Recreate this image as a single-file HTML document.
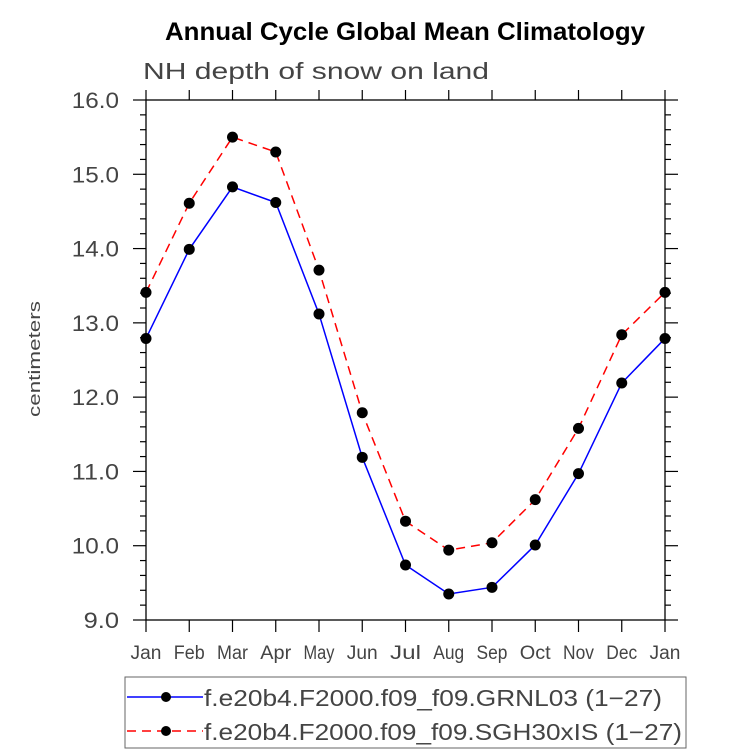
<!DOCTYPE html>
<html><head><meta charset="utf-8"><style>
body{margin:0;background:#fff;}
svg{display:block;font-family:"Liberation Sans",sans-serif;}
</style></head><body>
<svg id="chart" width="733" height="754">
<text x="165" y="40" font-size="25" font-weight="bold" textLength="480" lengthAdjust="spacingAndGlyphs">Annual Cycle Global Mean Climatology</text>
<text x="143" y="79" font-size="23" fill="#444" textLength="346" lengthAdjust="spacingAndGlyphs">NH depth of snow on land</text>
<text x="40" y="359" font-size="17" fill="#444" text-anchor="middle" textLength="116" lengthAdjust="spacingAndGlyphs" transform="rotate(-90 40 359)">centimeters</text>
<rect x="146" y="100" width="519" height="520" fill="none" stroke="#000" stroke-width="1.3"/>
<g id="ticks"></g><g id="series"></g>
<rect x="125" y="677" width="561" height="71" fill="none" stroke="#666" stroke-width="1"/>
<g>
<line x1="127" y1="697" x2="203" y2="697" stroke="#00f" stroke-width="1.5"/>
<circle cx="166" cy="697" r="5" fill="#000"/>
<text x="204" y="706" font-size="23" fill="#444" textLength="458" lengthAdjust="spacingAndGlyphs">f.e20b4.F2000.f09_f09.GRNL03 (1−27)</text>
</g>
<g>
<line x1="127" y1="731" x2="203" y2="731" stroke="#f00" stroke-width="1.5" stroke-dasharray="9,6"/>
<circle cx="166" cy="731" r="5" fill="#000"/>
<text x="204" y="740" font-size="23" fill="#444" textLength="478" lengthAdjust="spacingAndGlyphs">f.e20b4.F2000.f09_f09.SGH30xIS (1−27)</text>
</g>
</svg>
<script>
const months=["Jan","Feb","Mar","Apr","May","Jun","Jul","Aug","Sep","Oct","Nov","Dec","Jan"];
const blueValues=[12.79,13.99,14.83,14.62,13.12,11.19,9.74,9.35,9.44,10.01,10.97,12.19,12.79];
const redValues=[13.41,14.61,15.50,15.30,13.71,11.79,10.33,9.94,10.04,10.62,11.58,12.84,13.41];
const yTickLabels=["9.0","10.0","11.0","12.0","13.0","14.0","15.0","16.0"];
const yMin=9,yMax=16;
const NS="http://www.w3.org/2000/svg";
const X0=146,X1=665,Y0=620,Y1=100;
function xs(i){return X0+(X1-X0)*i/(months.length-1);}
function ys(v){return Y0-(v-yMin)/(yMax-yMin)*(Y0-Y1);}
function mk(tag,attrs,parent){const e=document.createElementNS(NS,tag);for(const k in attrs)e.setAttribute(k,attrs[k]);parent.appendChild(e);return e;}
const tg=document.getElementById('ticks');
months.forEach((m,i)=>{
  const x=xs(i);
  const t1=mk('line',{x1:x,y1:Y0,x2:x,y2:Y0+12,stroke:'#000','stroke-width':1.2},tg);
  
  
  mk('line',{x1:x,y1:Y1,x2:x,y2:Y1-10,stroke:'#000','stroke-width':1.2},tg);
  const t=mk('text',{x:x,y:Y0+39,'text-anchor':'middle','font-size':19,fill:'#444',textLength:m.length*10.3,lengthAdjust:'spacingAndGlyphs'},tg);
  t.textContent=m;
  
  
});
for(let k=0;k<=35;k++){
  const v=yMin+k*0.2,y=ys(v),major=k%5===0;
  const len=major?13:6;
  mk('line',{x1:X0,y1:y,x2:X0-len,y2:y,stroke:'#000','stroke-width':1.2},tg);
  mk('line',{x1:X1,y1:y,x2:X1+len,y2:y,stroke:'#000','stroke-width':1.2},tg);
}
yTickLabels.forEach(l=>{
  const t=mk('text',{x:119,y:ys(parseFloat(l))+8,'text-anchor':'end','font-size':22,fill:'#444',textLength:l.length*11.8,lengthAdjust:'spacingAndGlyphs'},tg);
  t.textContent=l;
  
  
});
const sg=document.getElementById('series');
function drawSeries(vals,color,dash,name){
  const p=mk('polyline',{points:vals.map((v,i)=>xs(i)+','+ys(v)).join(' '),fill:'none',stroke:color,'stroke-width':1.5},sg);
  if(dash)p.setAttribute('stroke-dasharray',dash);
  
  
  vals.forEach((v,i)=>{
    const c=mk('circle',{cx:xs(i),cy:ys(v),r:5.5,fill:'#000'},sg);
    
    
  });
}
drawSeries(redValues,'#f00','9,6','sgh30xis');
drawSeries(blueValues,'#00f',null,'grnl03');
</script>
</body></html>
